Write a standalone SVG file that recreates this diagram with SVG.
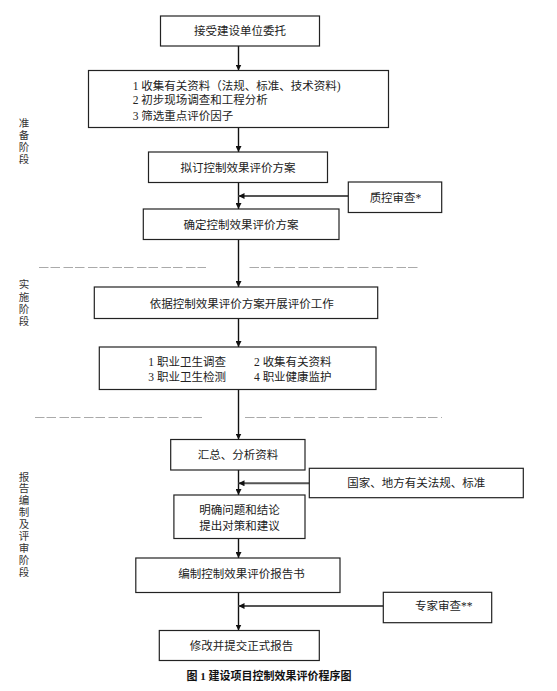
<svg xmlns="http://www.w3.org/2000/svg" width="557" height="691" viewBox="0 0 557 691">
<defs>
<marker id="ah" viewBox="0 0 10 10" refX="10" refY="5" markerWidth="6" markerHeight="6" orient="auto" markerUnits="userSpaceOnUse">
<path d="M0,0 L10,5 L0,10 z" fill="#111"/>
</marker>
</defs>
<style>
.box{fill:#fff;stroke:#222;stroke-width:1.2}
.t{font-family:"Liberation Serif","Noto Sans CJK SC",serif;font-size:11.5px;fill:#222}
.c{text-anchor:middle}
.v{font-family:"Liberation Serif","Noto Sans CJK SC",serif;font-size:10.5px;fill:#333;text-anchor:middle}
.ln{stroke:#111;stroke-width:1.4;fill:none}
.hl{stroke:#555;stroke-width:2;fill:none}
.dash{stroke:#aaa;stroke-width:1.2;stroke-dasharray:9.5 2 9.5 3.5;fill:none}
.cap{font-family:"Liberation Serif","Noto Sans CJK SC",serif;font-size:11px;font-weight:bold;fill:#111;text-anchor:middle}
</style>
<rect width="557" height="691" fill="#fff"/>

<g id="stage-labels">
<text class="v" x="24" y="127">准</text>
<text class="v" x="24" y="139">备</text>
<text class="v" x="24" y="151">阶</text>
<text class="v" x="24" y="162.5">段</text>
<text class="v" x="24" y="288">实</text>
<text class="v" x="24" y="300.5">施</text>
<text class="v" x="24" y="313">阶</text>
<text class="v" x="24" y="325">段</text>
<text class="v" x="24" y="480.5">报</text>
<text class="v" x="24" y="492.4">告</text>
<text class="v" x="24" y="504.3">编</text>
<text class="v" x="24" y="516.2">制</text>
<text class="v" x="24" y="528.1">及</text>
<text class="v" x="24" y="540">评</text>
<text class="v" x="24" y="551.9">审</text>
<text class="v" x="24" y="563.8">阶</text>
<text class="v" x="24" y="575.7">段</text>
</g>

<g id="separators">
<line class="dash" x1="39" y1="267.5" x2="206" y2="267.5"/>
<line class="dash" x1="249.5" y1="267.5" x2="418" y2="267.5"/>
<line class="dash" x1="35" y1="417.5" x2="202" y2="417.5"/>
<line class="dash" x1="245" y1="417.5" x2="442" y2="417.5"/>
</g>

<g id="connectors">
<line class="ln" x1="238.5" y1="46" x2="238.5" y2="70.5" marker-end="url(#ah)"/>
<line class="ln" x1="238.5" y1="127.5" x2="238.5" y2="152" marker-end="url(#ah)"/>
<line class="ln" x1="238.5" y1="182.5" x2="238.5" y2="209" marker-end="url(#ah)"/>
<line class="hl" x1="348.3" y1="196" x2="238.5" y2="196" marker-end="url(#ah)"/>
<line class="ln" x1="238.5" y1="239.5" x2="238.5" y2="287" marker-end="url(#ah)"/>
<line class="ln" x1="238.5" y1="318.5" x2="238.5" y2="347" marker-end="url(#ah)"/>
<line class="ln" x1="238.5" y1="389.5" x2="238.5" y2="439.5" marker-end="url(#ah)"/>
<line class="ln" x1="238.5" y1="470" x2="238.5" y2="495" marker-end="url(#ah)"/>
<line class="hl" x1="309.3" y1="483.3" x2="238.5" y2="483.3" marker-end="url(#ah)"/>
<line class="ln" x1="238.5" y1="538.5" x2="238.5" y2="558" marker-end="url(#ah)"/>
<line class="ln" x1="238.5" y1="592.5" x2="238.5" y2="630.5" marker-end="url(#ah)"/>
<line class="hl" x1="383.3" y1="606" x2="238.5" y2="606" marker-end="url(#ah)"/>
</g>

<g id="n1">
<rect class="box" x="160.5" y="16" width="159" height="30"/>
<text class="t c" x="240" y="35">接受建设单位委托</text>
</g>
<g id="n2">
<rect class="box" x="88.5" y="70.5" width="300" height="57"/>
<text class="t" x="132.7" y="90">1 收集有关资料（法规、标准、技术资料)</text>
<text class="t" x="132.7" y="104">2 初步现场调查和工程分析</text>
<text class="t" x="132.7" y="119.5">3 筛选重点评价因子</text>
</g>
<g id="n3">
<rect class="box" x="148.5" y="152" width="179" height="30.5"/>
<text class="t c" x="238" y="172">拟订控制效果评价方案</text>
</g>
<g id="n-qc">
<rect class="box" x="348.3" y="182" width="93.4" height="30.5"/>
<text class="t c" x="395.5" y="201.5">质控审查*</text>
</g>
<g id="n4">
<rect class="box" x="143.3" y="209" width="195.7" height="30.5"/>
<text class="t c" x="241" y="229">确定控制效果评价方案</text>
</g>
<g id="n5">
<rect class="box" x="94.3" y="287" width="283.4" height="31.5"/>
<text class="t c" x="241.7" y="308">依据控制效果评价方案开展评价工作</text>
</g>
<g id="n6">
<rect class="box" x="99.3" y="347" width="276.7" height="42.5"/>
<text class="t" x="148.3" y="366">1 职业卫生调查</text>
<text class="t" x="254" y="366">2 收集有关资料</text>
<text class="t" x="148.3" y="380.7">3 职业卫生检测</text>
<text class="t" x="254" y="380.7">4 职业健康监护</text>
</g>
<g id="n7">
<rect class="box" x="170.7" y="439.5" width="134.3" height="30.5"/>
<text class="t c" x="238" y="458.5">汇总、分析资料</text>
</g>
<g id="n-law">
<rect class="box" x="309.3" y="468.3" width="214" height="29.4"/>
<text class="t c" x="416.3" y="487">国家、地方有关法规、标准</text>
</g>
<g id="n8">
<rect class="box" x="173.9" y="495" width="131.1" height="43.5"/>
<text class="t c" x="239.5" y="514">明确问题和结论</text>
<text class="t c" x="239.5" y="529.5">提出对策和建议</text>
</g>
<g id="n9">
<rect class="box" x="135.8" y="558" width="204.2" height="34.5"/>
<text class="t c" x="241.6" y="577.5">编制控制效果评价报告书</text>
</g>
<g id="n-expert">
<rect class="box" x="383.3" y="592.3" width="108.4" height="30.4"/>
<text class="t c" x="443.7" y="610">专家审查**</text>
</g>
<g id="n10">
<rect class="box" x="159.3" y="630.5" width="160" height="30"/>
<text class="t c" x="241.6" y="649.5">修改并提交正式报告</text>
</g>

<text class="cap" x="269" y="680">图 1 建设项目控制效果评价程序图</text>
</svg>
